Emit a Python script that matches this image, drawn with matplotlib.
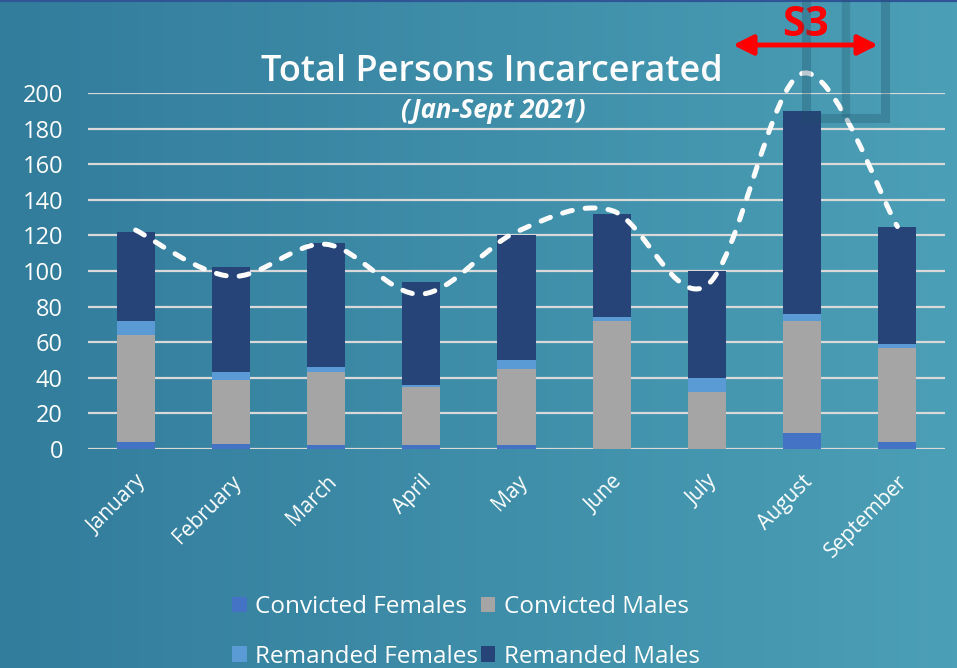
import numpy as np
import matplotlib
matplotlib.use('Agg')
import matplotlib.pyplot as plt
from matplotlib.path import Path
from matplotlib.patches import PathPatch, Rectangle
from matplotlib.colors import LinearSegmentedColormap

months = ['January', 'February', 'March', 'April', 'May', 'June', 'July', 'August', 'September']
convicted_females = [4, 3, 2, 2, 2, 0, 0, 9, 4]
convicted_males = [60, 36, 41, 33, 43, 72, 32, 63, 53]
remanded_females = [8, 4, 3, 1, 5, 2, 8, 4, 2]
remanded_males = [50, 59, 70, 58, 70, 58, 60, 114, 66]
trend = [123, 97, 115, 87, 122, 134, 92, 211, 125]

series = [
    ('Convicted Females', convicted_females, '#4472c4'),
    ('Convicted Males', convicted_males, '#a5a5a5'),
    ('Remanded Females', remanded_females, '#5b9bd5'),
    ('Remanded Males', remanded_males, '#264478'),
]

plt.rcParams['font.family'] = ['Open Sans', 'DejaVu Sans']

W, H = 957, 668
fig = plt.figure(figsize=(W / 100, H / 100), dpi=100)

# background gradient
bg = fig.add_axes([0, 0, 1, 1], zorder=-10)
grad = LinearSegmentedColormap.from_list('bg', ['#327c9c', '#4b9fb6'])
bg.imshow(np.linspace(0, 1, 256).reshape(1, -1), cmap=grad, aspect='auto',
          extent=[0, 1, 0, 1])
bg.axhline(1, color='#2f5597', lw=3)
bg.set_xlim(0, 1)
bg.set_ylim(0, 1)
bg.axis('off')

ax = fig.add_axes([88 / W, (H - 449) / H, 857 / W, 356 / H])
ax.set_facecolor('none')
x = np.arange(len(months))
bottom = np.zeros(len(months))
handles = {}
for name, vals, col in series:
    b = ax.bar(x, vals, 0.4, bottom=bottom, color=col, label=name, zorder=3)
    handles[name] = b
    bottom += np.array(vals)

ax.set_xlim(-0.5, 8.5)
ax.set_ylim(0, 200)
ax.set_yticks(range(0, 201, 20))
ax.grid(axis='y', color='#d9d9d9', lw=1.6, zorder=1)
ax.set_axisbelow(True)
for s in ax.spines.values():
    s.set_visible(False)
ax.tick_params(length=0, colors='white')
ax.tick_params(axis='y', labelsize=17, pad=18)
ax.set_xticks(x)
ax.set_xticklabels(months, rotation=45, ha='right', va='top',
                   rotation_mode='anchor', fontsize=15)
ax.tick_params(axis='x', pad=16)

# smooth dashed curve (catmull-rom through the trend values)
pts = np.column_stack([x, trend]).astype(float)
ext = np.vstack([pts[0], pts, pts[-1]])
verts = [tuple(pts[0])]
codes = [Path.MOVETO]
for i in range(len(pts) - 1):
    p0, p1, p2, p3 = ext[i], ext[i + 1], ext[i + 2], ext[i + 3]
    c1 = p1 + (p2 - p0) / 6
    c2 = p2 - (p3 - p1) / 6
    verts += [tuple(c1), tuple(c2), tuple(p2)]
    codes += [Path.CURVE4] * 3
curve = PathPatch(Path(verts, codes), facecolor='none', edgecolor='white',
                  lw=3.6, linestyle=(0, (2.0, 2.6)), capstyle='round',
                  zorder=5, clip_on=False)
ax.add_patch(curve)

fig.text(492 / W, 1 - 72 / H, 'Total Persons Incarcerated', color='white',
         fontsize=26, fontweight='semibold', ha='center', va='center')
fig.text(493 / W, 1 - 110 / H, '(Jan-Sept 2021)', color='white',
         fontsize=18.5, fontweight='bold', fontstyle='italic', ha='center', va='center')

# S3 marker
fig.text(805 / W, 1 - 25 / H, 'S3', color='#ff0000', fontsize=30,
         fontweight='bold', ha='center', va='center')
ax_arrow = fig.add_axes([0, 0, 1, 1], zorder=6)
ax_arrow.set_xlim(0, W)
ax_arrow.set_ylim(H, 0)
ax_arrow.axis('off')
ax_arrow.annotate('', xy=(733, 45), xytext=(878, 45),
                  arrowprops=dict(arrowstyle='<|-|>', color='#ff0000', lw=3.5,
                                  mutation_scale=30, shrinkA=0, shrinkB=0))
ax_arrow.add_patch(Rectangle((805.5, -5), 79, 122.5, fill=False, ec='#1f4f66',
                             lw=6.5, alpha=0.3))
ax_arrow.plot([846, 846], [0, 113], color='#1f4f66', lw=6, alpha=0.25)

order = ['Convicted Females', 'Remanded Females', 'Convicted Males', 'Remanded Males']
leg = fig.legend([handles[n] for n in order], order, ncol=2, loc='upper left',
                 bbox_to_anchor=(220 / W, 1 - 583 / H), frameon=False,
                 fontsize=17.5, labelcolor='white', handlelength=0.6,
                 handleheight=0.6, handletextpad=0.35, columnspacing=0.1,
                 labelspacing=1.05, borderpad=0)

fig.savefig('out.png', dpi=100)
